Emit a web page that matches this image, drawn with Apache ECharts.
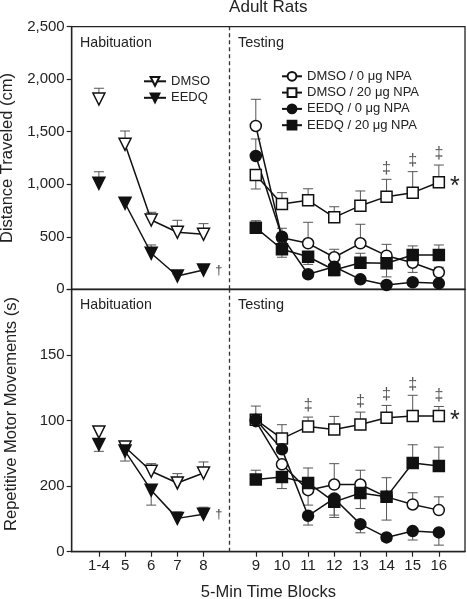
<!DOCTYPE html>
<html><head><meta charset="utf-8">
<script src="https://cdn.jsdelivr.net/npm/echarts@6/dist/echarts.min.js"></script>
<style>html,body{margin:0;padding:0;background:#fff}#c{width:467px;height:599px}</style>
</head><body><div id="c"></div>
<script>
// ---- categories / positions ----
const xLabels = ['1-4','5','6','7','8','9','10','11','12','13','14','15','16'];
const habX = [0,1,2,3,4];
const testX = [6,7,8,9,10,11,12,13];
const divider = 5;
const distTicks = ['0','500','1,000','1,500','2,000','2,500'];
const rmmTicks = ['0','200','100','150',''];

// ---- Distance Traveled (cm) ----
const distHabDMSO    = [1812,1380,660,543,524];
const distHabDMSOErr = [102,127,73,114,101];
const distHabEEDQ    = [1009,819,343,127,184];
const distHabEEDQErr = [110,38,79,18,22];
const distDMSO0      = [1555,490,438,305,438,320,253,162];
const distDMSO0Err   = [254,0,200,76,181,108,-92,48];
const distDMSO20     = [1088,812,847,685,796,882,920,1019];
const distDMSO20Err  = [-133,108,110,101,140,165,200,164];
const distEEDQ0      = [1269,501,143,215,95,41,67,57];
const distEEDQ0Err   = [162,80,0,0,0,0,0,0];
const distEEDQ20     = [587,381,310,184,253,248,327,327];
const distEEDQ20Err  = [66,-76,-73,-55,90,-130,86,95];
const distDaggerIdx  = [5,6,7];

// ---- Repetitive Motor Movements (s) ----
const rmmHabDMSO     = [91.2,79.8,61.3,52.4,60];
const rmmHabDMSOErr  = [0,0,5.8,7.1,8.4];
const rmmHabEEDQ     = [81.8,76.7,46.9,25.4,28.6];
const rmmHabEEDQErr  = [-5.3,-7.6,-11.4,5,5.3];
const rmmDMSO0       = [99.5,66.6,46.9,51.2,51.2,41.8,36,31.7];
const rmmDMSO0Err    = [0,0,-11.4,15.9,10.9,14.6,8.9,10.1];
const rmmDMSO20      = [100.6,86.2,95.5,93.2,97,102.1,103.4,103.4];
const rmmDMSO20Err   = [10.4,10.6,7.1,9.9,9.4,9.4,15.8,7.3];
const rmmEEDQ0       = [100.6,78,27.4,40.6,21,10.9,15.7,14.7];
const rmmEEDQ0Err    = [0,0,-7.1,-12.7,-6.6,-3,-6.8,-9.7];
const rmmEEDQ20      = [55,57,52.4,38,44.8,41.8,67.6,65.3];
const rmmEEDQ20Err   = [7.1,-8.9,11.4,-11.9,-11.9,-17.7,13.9,14.4];
const rmmDaggerIdx   = [2,4,5,6,7];

const names = ['DMSO','EEDQ','DMSO / 0 μg NPA','DMSO / 20 μg NPA','EEDQ / 0 μg NPA','EEDQ / 20 μg NPA'];

const FONT = '"Liberation Sans", Arial, sans-serif';
const TXT = '#222';
const INK = '#111';
const xPositions = habX.concat(testX);

function pairs(xs, ys){ return xs.map((x,i)=>[x, ys[i]]); }
function habLine(ys, markLast){
  const d = pairs(habX, ys);
  const out = [d[0], [0.5,'-']].concat(d.slice(1));
  if (markLast) {
    const last = out.length-1;
    out[last] = {value: out[last], label:{show:true, formatter:'†', position:'right', distance:5, fontSize:13, color:'#444', fontFamily:FONT}};
  }
  return out;
}
function testLine(ys, starLast){
  const d = pairs(testX, ys);
  if (starLast) {
    const last = d.length-1;
    d[last] = {value: d[last], label:{show:true, formatter:'*', position:'right', distance:5, fontSize:25, color:'#222', fontFamily:FONT, offset:[0,5]}};
  }
  return d;
}
function errData(xs, ys, es){ return xs.map((x,i)=>[x, ys[i], es[i]]).filter(d=>d[2]!==0); }

function errRender(params, api){
  const x = api.value(0), y = api.value(1), e = api.value(2);
  const p0 = api.coord([x,y]), p1 = api.coord([x,y+e]);
  const hw = 5;
  return {type:'group', children:[
    {type:'line', shape:{x1:p0[0],y1:p0[1],x2:p1[0],y2:p1[1]}, style:{stroke:'#555', lineWidth:1}},
    {type:'line', shape:{x1:p1[0]-hw,y1:p1[1],x2:p1[0]+hw,y2:p1[1]}, style:{stroke:'#555', lineWidth:1}}
  ]};
}
function errSeries(gi, xs, ys, es){
  return {type:'custom', xAxisIndex:gi, yAxisIndex:gi, renderItem:errRender, data:errData(xs,ys,es),
    encode:{x:0,y:1}, z:1, silent:true, animation:false, clip:false};
}
function daggerSeries(gi, idx, ys, es){
  const data = idx.map(i=>[testX[i], ys[i] + Math.max(es[i],0)]);
  return {type:'custom', xAxisIndex:gi, yAxisIndex:gi, data, encode:{x:0,y:1}, z:1, silent:true, animation:false, clip:false,
    renderItem:function(params, api){
      const p = api.coord([api.value(0), api.value(1)]);
      return {type:'text', x:p[0], y:p[1]-11, style:{text:'‡', fontSize:16, fill:'#555', fontFamily:FONT, align:'center', verticalAlign:'middle'}};
    }};
}
function lineSeries(name, gi, data, symbol, filled, extra){
  return Object.assign({
    type:'line', name, xAxisIndex:gi, yAxisIndex:gi, data, symbol, symbolSize:10,
    showAllSymbol:true, connectNulls:false,
    lineStyle:{color:INK, width:1.5},
    itemStyle:{color: filled ? INK : '#fff', borderColor:INK, borderWidth:1.5},
    emphasis:{disabled:true}, animation:false, z:3
  }, extra || {});
}
const tri = {symbolRotate:180, symbolSize:12};
function divLine(){
  return {silent:true, symbol:'none', label:{show:false}, animation:false,
    lineStyle:{type:[4,3], color:'#333', width:1.3}, data:[{xAxis:divider}]};
}

const series = [];
const sets = [
  {gi:0, hab:[distHabDMSO,distHabDMSOErr,distHabEEDQ,distHabEEDQErr],
   test:[[distDMSO0,distDMSO0Err],[distDMSO20,distDMSO20Err],[distEEDQ0,distEEDQ0Err],[distEEDQ20,distEEDQ20Err]],
   dag:distDaggerIdx},
  {gi:1, hab:[rmmHabDMSO,rmmHabDMSOErr,rmmHabEEDQ,rmmHabEEDQErr],
   test:[[rmmDMSO0,rmmDMSO0Err],[rmmDMSO20,rmmDMSO20Err],[rmmEEDQ0,rmmEEDQ0Err],[rmmEEDQ20,rmmEEDQ20Err]],
   dag:rmmDaggerIdx}
];
sets.forEach(s=>{
  const g = s.gi;
  series.push(errSeries(g, habX, s.hab[0], s.hab[1]));
  series.push(errSeries(g, habX, s.hab[2], s.hab[3]));
  s.test.forEach(t=>series.push(errSeries(g, testX, t[0], t[1])));
  series.push(daggerSeries(g, s.dag, s.test[1][0], s.test[1][1]));
  series.push(lineSeries(names[0], g, habLine(s.hab[0], false), 'triangle', false, Object.assign({markLine:divLine()}, tri)));
  series.push(lineSeries(names[1], g, habLine(s.hab[2], true), 'triangle', true, tri));
  series.push(lineSeries(names[2], g, testLine(s.test[0][0], false), 'circle', false, {symbolSize:11}));
  series.push(lineSeries(names[3], g, testLine(s.test[1][0], true), 'rect', false, {symbolSize:11}));
  series.push(lineSeries(names[4], g, testLine(s.test[2][0], false), 'circle', true, {symbolSize:11}));
  series.push(lineSeries(names[5], g, testLine(s.test[3][0], false), 'rect', true, {symbolSize:11}));
});

function xAxis(gi, showLabels){
  return {type:'value', gridIndex:gi, min:-1.04, max:14, splitLine:{show:false},
    axisLine:{show:true, onZero:false, lineStyle:{color:'#222', width:1.3}},
    axisTick:{show:showLabels, customValues:xPositions, length:5, lineStyle:{color:'#222', width:1.2}},
    axisLabel:{show:showLabels, customValues:xPositions, margin:7, fontSize:15, color:TXT, fontFamily:FONT,
      formatter:v=>xLabels[xPositions.indexOf(v)]},
    name: showLabels ? '5-Min Time Blocks' : '', nameLocation:'middle', nameGap:32,
    nameTextStyle:{fontSize:16.5, color:TXT, fontFamily:FONT}};
}
function yAxis(gi, max, interval, ticks, name, pad){
  return {type:'value', gridIndex:gi, min:0, max, interval, splitLine:{show:false},
    axisLine:{show:true, onZero:false, lineStyle:{color:'#222', width:1.3}},
    axisTick:{show:true, length:5, lineStyle:{color:'#222', width:1.2}},
    axisLabel:{margin:7, fontSize:15, color:TXT, fontFamily:FONT, formatter:v=>ticks[Math.round(v/interval)]},
    name, nameLocation:'middle', nameGap:52, nameTextStyle:{fontSize:16.5, color:TXT, fontFamily:FONT, padding:pad}};
}

const chart = echarts.init(document.getElementById('c'), null, {renderer:'canvas'});
chart.setOption({
  backgroundColor:'#fff',
  animation:false,
  grid:[
    {left:71.7, right:2, top:26.7, height:262.6, show:true, borderColor:'#222', borderWidth:1.3, outerBoundsMode:'none', containLabel:false},
    {left:71.7, right:2, top:289.3, height:262.4, show:true, borderColor:'#222', borderWidth:1.3, outerBoundsMode:'none', containLabel:false}
  ],
  xAxis:[xAxis(0,false), xAxis(1,true)],
  yAxis:[yAxis(0,2500,500,distTicks,'Distance Traveled (cm)',[0,0,0,0]),
         yAxis(1,200,50,rmmTicks,'Repetitive Motor Movements (s)',[0,0,0,13])],
  legend:[
    {data:names.slice(0,2), orient:'vertical', left:143, top:74.8, padding:0, itemWidth:22, itemHeight:11, itemGap:3.5,
      textStyle:{fontSize:13, color:TXT, fontFamily:FONT}, selectedMode:false},
    {data:names.slice(2), orient:'vertical', left:281, top:69.8, padding:0, itemWidth:20, itemHeight:11, itemGap:3.3,
      textStyle:{fontSize:13, color:TXT, fontFamily:FONT}, selectedMode:false}
  ],
  graphic:[
    {type:'text', x:268.3, y:7, style:{text:'Adult Rats', fontSize:17, fill:TXT, fontFamily:FONT, align:'center', verticalAlign:'middle'}},
    {type:'text', x:80, y:43, style:{text:'Habituation', fontSize:14.2, fill:TXT, fontFamily:FONT, verticalAlign:'middle'}},
    {type:'text', x:238, y:43, style:{text:'Testing', fontSize:14.5, fill:TXT, fontFamily:FONT, verticalAlign:'middle'}},
    {type:'text', x:80, y:305, style:{text:'Habituation', fontSize:14.2, fill:TXT, fontFamily:FONT, verticalAlign:'middle'}},
    {type:'text', x:238, y:305, style:{text:'Testing', fontSize:14.5, fill:TXT, fontFamily:FONT, verticalAlign:'middle'}}
  ],
  series
});
</script>
</body></html>
